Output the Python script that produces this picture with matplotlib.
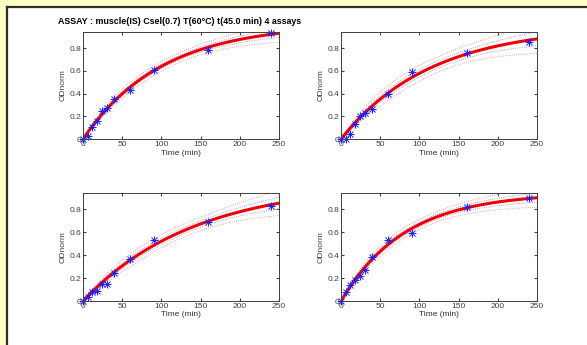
import numpy as np
import matplotlib
matplotlib.use('Agg')
import matplotlib.pyplot as plt
from matplotlib.patches import Rectangle

plt.rcParams.update({'font.family': 'Liberation Sans',
                     'font.size': 6,
                     'xtick.direction': 'in',
                     'ytick.direction': 'in',
                     'xtick.top': True,
                     'ytick.right': True,
                     'xtick.major.size': 2.5,
                     'ytick.major.size': 2.5,
                     'xtick.color': '#404040',
                     'ytick.color': '#404040',
                     'axes.edgecolor': '#404040',
                     'axes.linewidth': 0.7})

title = 'ASSAY : muscle(IS) Csel(0.7) T(60°C) t(45.0 min) 4 assays'

times = [0, 6, 12, 18, 24, 30, 40, 60, 90, 160, 240]
od_a1 = [0.0, 0.03, 0.11, 0.16, 0.25, 0.27, 0.35, 0.43, 0.61, 0.785, 0.935]
od_a2 = [0.0, 0.0, 0.045, 0.135, 0.20, 0.225, 0.26, 0.40, 0.59, 0.76, 0.85]
od_a3 = [0.0, 0.035, 0.075, 0.09, 0.145, 0.15, 0.245, 0.37, 0.535, 0.69, 0.83]
od_a4 = [0.0, 0.08, 0.14, 0.18, 0.22, 0.27, 0.385, 0.535, 0.595, 0.815, 0.895]
assays = [od_a1, od_a2, od_a3, od_a4]

xticks = [0, 50, 100, 150, 200, 250]
yticks = [0, 0.2, 0.4, 0.6, 0.8]
yticklabels = ['0', '0.2', '0.4', '0.6', '0.8']


def fit_first_order(t, y):
    # y = A (1 - exp(-k t)), least squares over k, A solved linearly
    best = None
    for k in np.linspace(0.001, 0.05, 4000):
        f = 1 - np.exp(-k * t)
        A = np.sum(y * f) / np.sum(f * f)
        sse = np.sum((y - A * f) ** 2)
        if best is None or sse < best[0]:
            best = (sse, A, k)
    sse, A, k = best
    J = np.column_stack([1 - np.exp(-k * t), A * t * np.exp(-k * t)])
    s2 = sse / (len(t) - 2)
    cov = s2 * np.linalg.inv(J.T @ J)
    return A, k, cov


fig = plt.figure(figsize=(5.87, 3.45), dpi=100)
fig.patches.append(Rectangle((0, 0.983), 1, 0.017, transform=fig.transFigure,
                             facecolor='#ffffc8', edgecolor='none', zorder=0))
fig.patches.append(Rectangle((0, 0), 0.0105, 1, transform=fig.transFigure,
                             facecolor='#ffffc8', edgecolor='none', zorder=0))
fig.add_artist(plt.Line2D([0.0115, 1], [0.9805, 0.9805], color='#303020', lw=1.6))
fig.add_artist(plt.Line2D([0.0115, 0.0115], [0, 0.9805], color='#303020', lw=1.6))

positions = [[0.1414, 0.597, 0.334, 0.310], [0.581, 0.597, 0.334, 0.310],
             [0.1414, 0.1275, 0.334, 0.313], [0.581, 0.1275, 0.334, 0.313]]

t = np.array(times, dtype=float)
tt = np.linspace(0, 250, 300)
for pos, od in zip(positions, assays):
    ax = fig.add_axes(pos)
    y = np.array(od)
    A, k, cov = fit_first_order(t, y)
    fit = A * (1 - np.exp(-k * tt))
    g = np.column_stack([1 - np.exp(-k * tt), A * tt * np.exp(-k * tt)])
    se = np.sqrt(np.einsum('ij,jk,ik->i', g, cov, g))
    for m, c in [(4.2, '#ec8080'), (2.0, '#8080e8')]:
        ax.plot(tt, fit + m * se, ':', color=c, lw=0.6)
        ax.plot(tt, fit - m * se, ':', color=c, lw=0.6)
    ax.plot(tt, fit, color='#ee0000', lw=2.2)
    # matlab style asterisk = plus + cross
    ax.plot(t, y, '+', color='#2020ee', ms=6, mew=0.7, clip_on=False)
    ax.plot(t, y, 'x', color='#2020ee', ms=4.5, mew=0.7, clip_on=False)
    ax.set_xlim(0, 250)
    ax.set_ylim(0, 0.94)
    ax.set_xticks(xticks)
    ax.set_yticks(yticks)
    ax.set_yticklabels(yticklabels)
    ax.tick_params(pad=1.5, labelsize=6)
    ax.set_xlabel('Time (min)', fontsize=6, labelpad=1, color='#303030')
    ax.set_ylabel('ODnorm', fontsize=6, labelpad=2, color='#404040')

fig.text(0.099, 0.93, title, fontsize=6.4, fontweight='bold', ha='left', va='baseline')

fig.savefig('out.png', dpi=100, facecolor='white')
